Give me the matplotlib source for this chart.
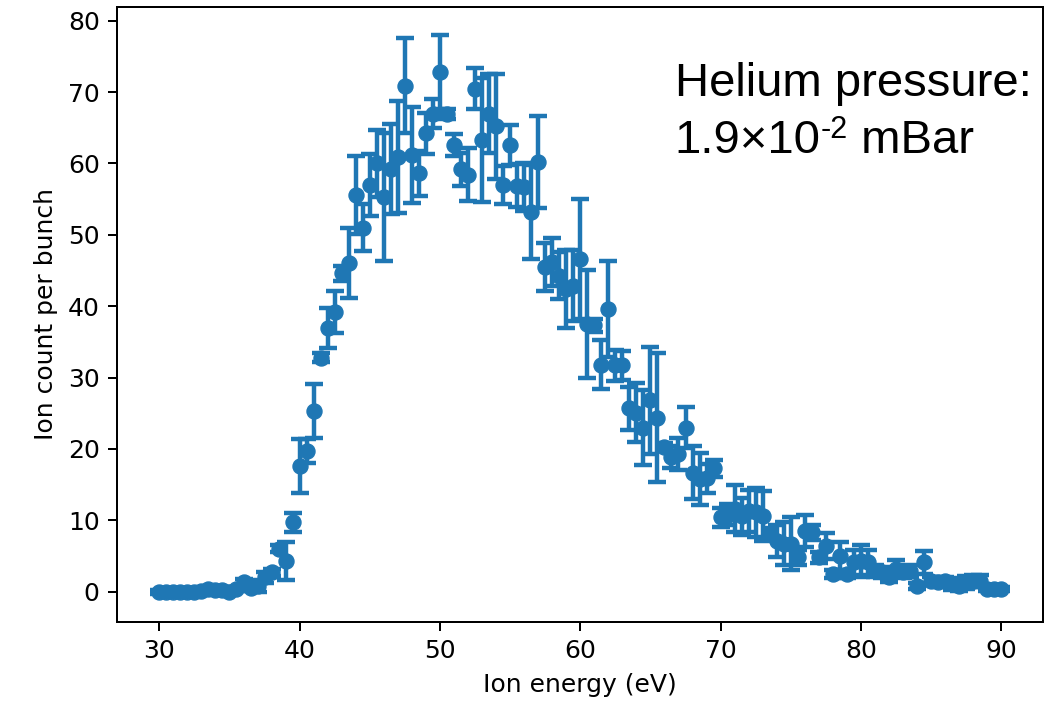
import numpy as np
import matplotlib
matplotlib.use("Agg")
import matplotlib.pyplot as plt

# ion energy scan, 0.5 eV steps
energy = [
    30.0, 30.5, 31.0, 31.5, 32.0, 32.5, 33.0, 33.5, 34.0, 34.5,
    35.0, 35.5, 36.0, 36.5, 37.0, 37.5, 38.0, 38.5, 39.0, 39.5,
    40.0, 40.5, 41.0, 41.5, 42.0, 42.5, 43.0, 43.5, 44.0, 44.5,
    45.0, 45.5, 46.0, 46.5, 47.0, 47.5, 48.0, 48.5, 49.0, 49.5,
    50.0, 50.5, 51.0, 51.5, 52.0, 52.5, 53.0, 53.5, 54.0, 54.5,
    55.0, 55.5, 56.0, 56.5, 57.0, 57.5, 58.0, 58.5, 59.0, 59.5,
    60.0, 60.5, 61.0, 61.5, 62.0, 62.5, 63.0, 63.5, 64.0, 64.5,
    65.0, 65.5, 66.0, 66.5, 67.0, 67.5, 68.0, 68.5, 69.0, 69.5,
    70.0, 70.5, 71.0, 71.5, 72.0, 72.5, 73.0, 73.5, 74.0, 74.5,
    75.0, 75.5, 76.0, 76.5, 77.0, 77.5, 78.0, 78.5, 79.0, 79.5,
    80.0, 80.5, 81.0, 81.5, 82.0, 82.5, 83.0, 83.5, 84.0, 84.5,
    85.0, 85.5, 86.0, 86.5, 87.0, 87.5, 88.0, 88.5, 89.0, 89.5,
    90.0,
]

counts = [
    0.0, 0.0, 0.0, 0.0, 0.0, 0.0, 0.1, 0.4, 0.2, 0.3,
    0.0, 0.4, 1.3, 0.5, 0.8, 2.0, 2.7, 6.0, 4.3, 9.7,
    17.6, 19.7, 25.3, 32.8, 36.9, 39.2, 44.6, 46.0, 55.6, 51.0,
    57.0, 60.0, 55.3, 59.2, 60.9, 70.9, 61.2, 58.6, 64.2, 67.0,
    72.8, 67.0, 62.6, 59.2, 58.4, 70.5, 63.3, 67.0, 65.2, 57.0,
    62.6, 56.9, 56.7, 53.2, 60.2, 45.5, 46.2, 44.3, 42.4, 42.9,
    46.6, 37.5, 37.3, 31.8, 39.6, 31.7, 31.7, 25.7, 25.1, 23.0,
    26.8, 24.4, 20.3, 18.9, 19.3, 23.0, 16.7, 15.8, 15.9, 17.3,
    10.4, 10.8, 11.6, 10.6, 11.3, 11.1, 10.6, 8.1, 7.1, 6.7,
    6.7, 4.8, 8.5, 8.3, 4.8, 6.4, 2.5, 5.0, 2.5, 4.1,
    4.3, 4.1, 2.9, 2.7, 2.0, 3.2, 2.7, 2.9, 0.8, 4.1,
    1.5, 1.3, 1.5, 1.1, 0.8, 1.3, 1.5, 1.5, 0.4, 0.4,
    0.4,
]

errors = [
    0.3, 0.3, 0.3, 0.3, 0.3, 0.3, 0.3, 0.3, 0.3, 0.3,
    0.3, 0.3, 0.5, 0.4, 0.8, 0.8, 0.5, 0.5, 2.6, 1.3,
    3.8, 1.7, 3.8, 0.6, 2.8, 3.0, 1.0, 4.9, 5.5, 3.3,
    4.3, 4.7, 9.0, 6.3, 7.8, 6.7, 6.7, 3.2, 2.9, 2.1,
    5.2, 0.7, 1.5, 2.3, 3.7, 2.9, 8.7, 5.5, 7.4, 2.7,
    2.8, 3.0, 3.3, 6.6, 6.5, 3.4, 3.3, 3.3, 5.5, 5.0,
    8.4, 7.6, 0.9, 3.4, 6.7, 2.2, 2.0, 3.0, 4.1, 5.2,
    7.5, 9.0, 0.6, 1.5, 2.3, 2.9, 3.7, 3.6, 2.0, 1.2,
    1.3, 1.5, 3.3, 2.6, 3.0, 3.5, 3.5, 0.8, 2.2, 3.0,
    3.7, 1.0, 2.3, 1.0, 0.8, 1.8, 0.6, 2.0, 0.6, 1.8,
    2.3, 1.8, 0.8, 0.8, 0.6, 1.2, 0.8, 0.8, 0.4, 1.6,
    0.5, 0.5, 0.5, 0.8, 0.7, 0.9, 0.9, 0.9, 0.3, 0.3,
    0.3,
]

note_line1 = "Helium pressure:"
note_base = "1.9\u00d710"
note_exp = "-2"
note_unit = " mBar"

fig = plt.figure(figsize=(10.56, 7.05), dpi=100)
ax = fig.add_axes([0.111, 0.118, 0.877, 0.872])

ax.errorbar(energy, counts, yerr=errors, fmt='o', color='#1f77b4',
            ms=10.8, elinewidth=3.2, capsize=6.5, capthick=3.2)

ax.set_xlabel('Ion energy (eV)', fontsize=18, labelpad=7)
ax.set_ylabel('Ion count per bunch', fontsize=18, labelpad=7)
ax.tick_params(labelsize=18, length=6.3, width=1.44, pad=6.3)
for sp in ax.spines.values():
    sp.set_linewidth(1.44)

# annotation text (Arial-like), second line built from pieces for the superscript
fig.text(0.639, 0.8638, note_line1, fontsize=34, family='Liberation Sans', va='baseline')
t1 = fig.text(0.639, 0.7826, note_base, fontsize=34, family='Liberation Sans', va='baseline')
t2 = fig.text(0, 0, '')
t2 = ax.annotate(note_exp, xy=(1.0, 0.8043), xycoords=(t1, 'figure fraction'),
                 fontsize=22, family='Liberation Sans', va='baseline', ha='left')
ax.annotate(note_unit, xy=(1.0, 0.7826), xycoords=(t2, 'figure fraction'),
            fontsize=34, family='Liberation Sans', va='baseline', ha='left')

fig.savefig('out.png', dpi=100)
